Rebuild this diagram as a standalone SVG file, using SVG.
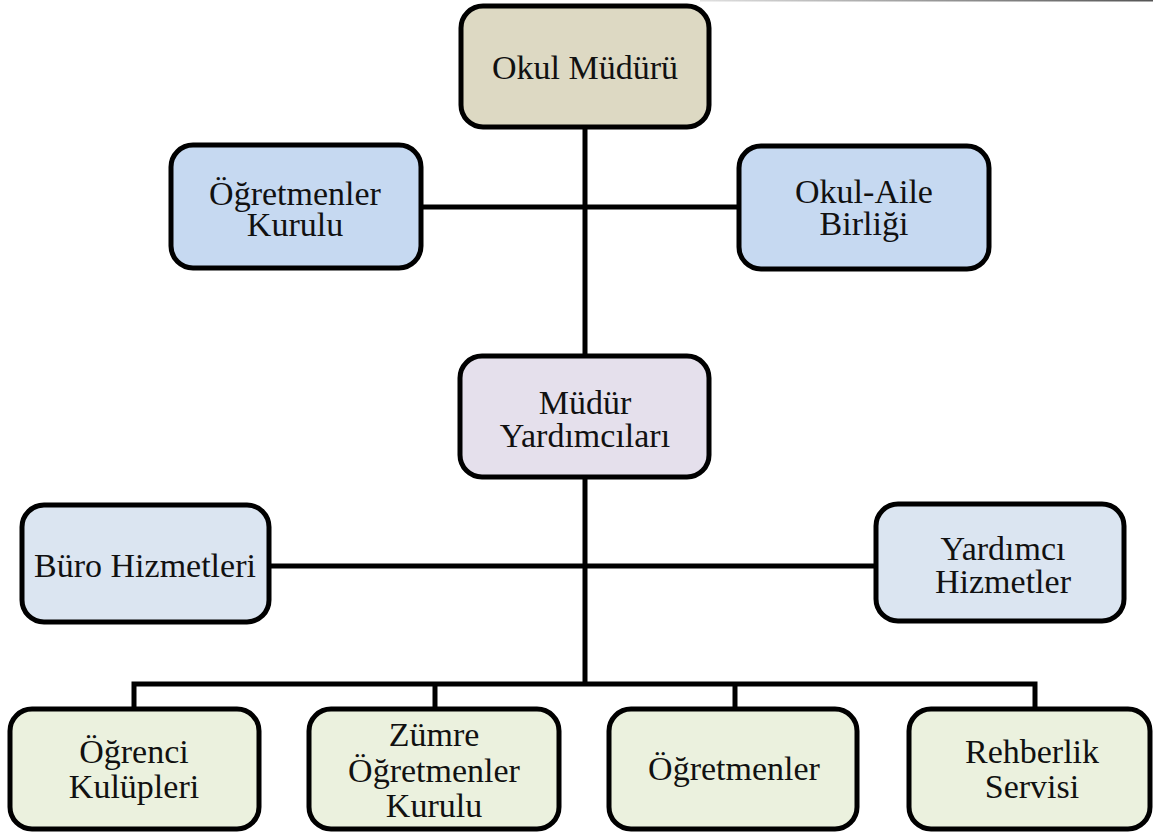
<svg xmlns="http://www.w3.org/2000/svg" width="1153" height="834" viewBox="0 0 1153 834">
<style>
.box{stroke:#000;stroke-width:5}
.t{font-family:"Liberation Serif","Times New Roman",serif;font-size:34px;fill:#111;text-anchor:middle}
.c{stroke:#000;stroke-width:5;fill:none}
</style>
<defs>
<linearGradient id="g" x1="0" x2="1" y1="0" y2="0"><stop offset="0" stop-color="#e0e0e0"/><stop offset="1" stop-color="#555"/></linearGradient>
</defs>
<rect width="1153" height="834" fill="#fff"/>
<rect x="700" y="0" width="453" height="1.5" fill="url(#g)"/>
<g id="connectors">
<line class="c" x1="585" y1="127" x2="585" y2="356"/>
<line class="c" x1="421" y1="207" x2="739" y2="207"/>
<line class="c" x1="585" y1="477" x2="585" y2="684"/>
<line class="c" x1="269" y1="566" x2="876" y2="566"/>
<polyline class="c" points="134,709 134,684 1035,684 1035,709"/>
<line class="c" x1="435" y1="684" x2="435" y2="709"/>
<line class="c" x1="735" y1="684" x2="735" y2="709"/>
</g>
<g id="okul-muduru"><rect class="box" x="461" y="6" width="248" height="121" rx="22" fill="#ddd9c3"/><text class="t" x="585" y="79">Okul Müdürü</text></g>
<g id="ogretmenler-kurulu"><rect class="box" x="171" y="145" width="250" height="123" rx="22" fill="#c6d9f1"/><text class="t" x="295" y="205">Öğretmenler</text><text class="t" x="295" y="236">Kurulu</text></g>
<g id="okul-aile"><rect class="box" x="739" y="146" width="250" height="123" rx="22" fill="#c6d9f1"/><text class="t" x="864" y="203">Okul-Aile</text><text class="t" x="864" y="235">Birliği</text></g>
<g id="mudur-yardimcilari"><rect class="box" x="460" y="356" width="249" height="121" rx="22" fill="#e5e0ec"/><text class="t" x="585" y="414">Müdür</text><text class="t" x="585" y="447">Yardımcıları</text></g>
<g id="buro"><rect class="box" x="22" y="505" width="247" height="117" rx="22" fill="#dbe5f1"/><text class="t" x="145" y="577">Büro Hizmetleri</text></g>
<g id="yardimci"><rect class="box" x="876" y="504" width="248" height="117" rx="22" fill="#dbe5f1"/><text class="t" x="1003" y="560">Yardımcı</text><text class="t" x="1003" y="593">Hizmetler</text></g>
<g id="ogrenci"><rect class="box" x="10" y="709" width="249" height="120" rx="22" fill="#ebf1de"/><text class="t" x="134" y="763">Öğrenci</text><text class="t" x="134" y="798">Kulüpleri</text></g>
<g id="zumre"><rect class="box" x="309" y="709" width="250" height="120" rx="22" fill="#ebf1de"/><text class="t" x="434" y="746">Zümre</text><text class="t" x="434" y="782">Öğretmenler</text><text class="t" x="434" y="817">Kurulu</text></g>
<g id="ogretmenler"><rect class="box" x="609" y="709" width="248" height="120" rx="22" fill="#ebf1de"/><text class="t" x="734" y="780">Öğretmenler</text></g>
<g id="rehberlik"><rect class="box" x="909" y="709" width="241" height="120" rx="22" fill="#ebf1de"/><text class="t" x="1032" y="763">Rehberlik</text><text class="t" x="1032" y="798">Servisi</text></g>
</svg>
